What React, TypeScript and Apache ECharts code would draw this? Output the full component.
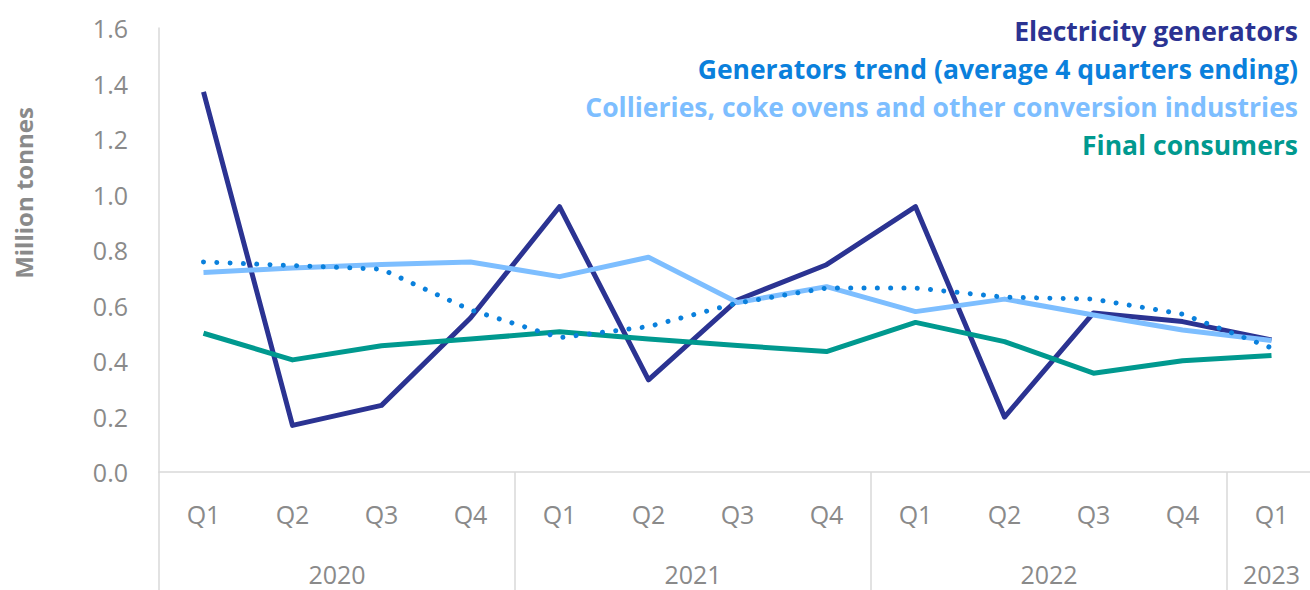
import React, { useEffect, useRef } from "react";
import * as echarts from "echarts";

const quarters = ["Q1", "Q2", "Q3", "Q4", "Q1", "Q2", "Q3", "Q4", "Q1", "Q2", "Q3", "Q4", "Q1"];
const yearLabels: Record<string, string> = { "1.5": "2020", "5.5": "2021", "9.5": "2022", "12": "2023" };
const yTicks = { min: 0, max: 1.6, interval: 0.2 };

const electricity = [1.37, 0.168, 0.24, 0.555, 0.956, 0.332, 0.62, 0.747, 0.956, 0.198, 0.573, 0.542, 0.476];
const trend = [0.757, 0.744, 0.731, 0.584, 0.484, 0.524, 0.609, 0.663, 0.663, 0.63, 0.623, 0.569, 0.447];
const collieries = [0.719, 0.735, 0.748, 0.757, 0.704, 0.774, 0.611, 0.668, 0.578, 0.623, 0.566, 0.512, 0.474];
const finalConsumers = [0.5, 0.404, 0.455, 0.479, 0.505, 0.479, 0.456, 0.434, 0.539, 0.47, 0.356, 0.401, 0.42];

const seriesNames = [
  "Electricity generators",
  "Generators trend (average 4 quarters ending)",
  "Collieries, coke ovens and other conversion industries",
  "Final consumers",
];
const colors = ["#2B3392", "#0A80DC", "#7DBEFF", "#00998F"];

const FONT = "'Open Sans'";
const GRAY = "#8a8a8a";

export default function App() {
  const ref = useRef<HTMLDivElement>(null);
  useEffect(() => {
    if (!ref.current) return;
    const chart = echarts.init(ref.current, undefined, { renderer: "svg" });
    const legendTexts = seriesNames.map((name, i) => ({
      type: "text",
      x: 1298,
      y: 31 + i * 38,
      style: {
        text: name,
        fill: colors[i],
        font: `bold 26.5px ${FONT}`,
        textAlign: "right",
        textVerticalAlign: "middle",
      },
    }));
    chart.setOption({
      animation: false,
      textStyle: { fontFamily: FONT },
      grid: { left: 159, top: 28, width: 1157, height: 444, containLabel: false },
      xAxis: [
        {
          type: "category",
          data: quarters,
          boundaryGap: true,
          axisLine: { show: true, lineStyle: { color: "#d9d9d9", width: 1.5 } },
          axisTick: {
            show: true,
            interval: (i: number) => i % 4 === 0,
            length: 120,
            lineStyle: { color: "#d9d9d9", width: 1.5 },
          },
          axisLabel: { color: GRAY, fontSize: 25, margin: 29, interval: 0, fontFamily: FONT },
          splitLine: { show: false },
        },
        {
          type: "value",
          position: "bottom",
          min: -0.5,
          max: 12.5,
          interval: 0.5,
          axisLine: { show: false },
          axisTick: { show: false },
          splitLine: { show: false },
          axisLabel: {
            color: GRAY,
            fontSize: 25,
            margin: 89,
            fontFamily: FONT,
            formatter: (v: number) => yearLabels[String(v)] || "",
          },
        },
      ],
      yAxis: {
        type: "value",
        min: yTicks.min,
        max: yTicks.max,
        interval: yTicks.interval,
        axisLine: { show: true, onZero: false, lineStyle: { color: "#d9d9d9", width: 1.5 } },
        axisTick: { show: false },
        splitLine: { show: false },
        axisLabel: {
          color: GRAY,
          fontSize: 25,
          margin: 31,
          fontFamily: FONT,
          formatter: (v: number) => v.toFixed(1),
        },
      },
      series: [
        {
          name: seriesNames[0],
          type: "line",
          data: electricity,
          symbol: "none",
          z: 2,
          lineStyle: { color: colors[0], width: 5, join: "round" },
        },
        {
          name: seriesNames[2],
          type: "line",
          data: collieries,
          symbol: "none",
          z: 3,
          lineStyle: { color: colors[2], width: 5, join: "round" },
        },
        {
          name: seriesNames[3],
          type: "line",
          data: finalConsumers,
          symbol: "none",
          z: 4,
          lineStyle: { color: colors[3], width: 5, join: "round" },
        },
        {
          name: seriesNames[1],
          type: "line",
          data: trend,
          symbol: "none",
          z: 5,
          lineStyle: { color: colors[1], width: 5, type: [0.01, 13.3], cap: "round" },
        },
      ],
      graphic: [
        ...legendTexts,
        {
          type: "text",
          x: 23,
          y: 193,
          rotation: Math.PI / 2,
          style: {
            text: "Million tonnes",
            fill: GRAY,
            font: `bold 24px ${FONT}`,
            textAlign: "center",
            textVerticalAlign: "middle",
          },
        },
      ],
    });
    return () => chart.dispose();
  }, []);
  return (
    <div style={{ position: "absolute", left: 0, top: 0, width: 1310, height: 590, overflow: "hidden" }}>
      <div ref={ref} style={{ position: "absolute", left: 0, top: 0, width: 1330, height: 590 }} />
    </div>
  );
}
